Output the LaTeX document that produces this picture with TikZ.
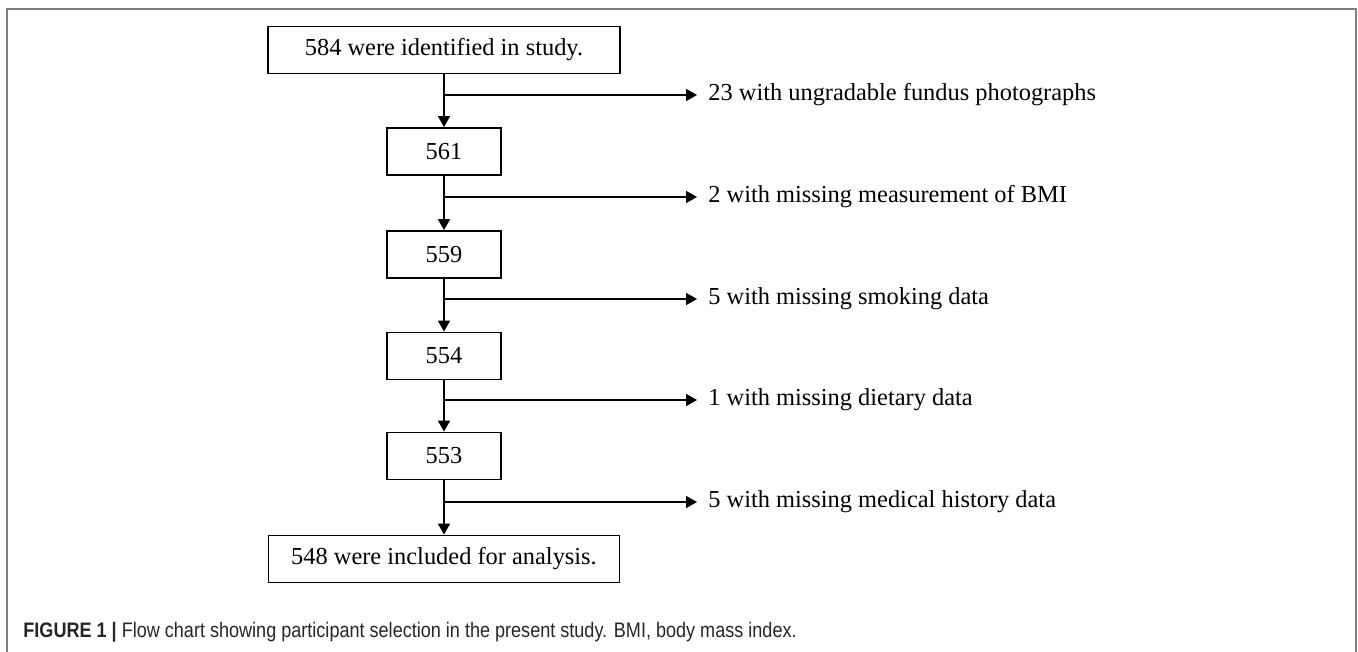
\documentclass[tikz,border=0pt]{standalone}
\usepackage{fontspec}
\setmainfont{Liberation Serif}
\newfontfamily\capfont[FakeStretch=0.86]{Liberation Sans}
\usepackage{tikz}
\usetikzlibrary{arrows.meta}
\usetikzlibrary{positioning}

\begin{document}
\begin{tikzpicture}[x=0.5pt,y=-0.5pt]
	\useasboundingbox (0,0) rectangle (1358,652);
	% frame round the figure
	\draw[line width=1pt, black!50] (7,700) -- (7,9) -- (1356,9) -- (1356,700);

	\begin{scope}[every node/.style={draw, line width=0.9pt, inner sep=0pt, minimum height=23.5pt, font=\fontsize{12.2}{14}\selectfont}]
		\node[minimum width=176pt] (n584) at (444,50) {584 were identified in study.};
		\node[minimum width=57pt] (n561) at (444,151.5) {561};
		\node[minimum width=57pt] (n559) at (444,254.5) {559};
		\node[minimum width=57pt] (n554) at (444,356) {554};
		\node[minimum width=57pt] (n553) at (444,456) {553};
		\node[minimum width=175.5pt] (n548) at (444,559) {548 were included for analysis.};
	\end{scope}

	\begin{scope}[every node/.style={anchor=west, inner sep=0pt, font=\fontsize{12.2}{14}\selectfont}]
		\node (l1) at (708,95) {23 with ungradable fundus photographs};
		\node (l2) at (708,197) {2 with missing measurement of BMI};
		\node (l3) at (708,299) {5 with missing smoking data};
		\node (l4) at (708,400) {1 with missing dietary data};
		\node (l5) at (708,502) {5 with missing medical history data};
	\end{scope}

	\coordinate (b1) at (444,95);
	\coordinate (b2) at (444,197);
	\coordinate (b3) at (444,299);
	\coordinate (b4) at (444,400);
	\coordinate (b5) at (444,502);

	\begin{scope}[>={Triangle[length=5.5pt,width=6pt]}, line width=0.8pt]
		\draw[->] (n584) -- (n561);
		\draw[->] (n561) -- (n559);
		\draw[->] (n559) -- (n554);
		\draw[->] (n554) -- (n553);
		\draw[->] (n553) -- (n548);
		\foreach \i in {1,...,5}
		{
			\draw[->, shorten >=5.5pt] (b\i) -- (l\i.west |- b\i);
		}
	\end{scope}

	\node[anchor=west, inner sep=0pt, text=black!85, font=\capfont\fontsize{10.5}{12}\selectfont] (cap) at (23,632)
		{\textbf{FIGURE 1 |} Flow chart showing participant selection in the present study. BMI, body mass index.};
\end{tikzpicture}
\end{document}
